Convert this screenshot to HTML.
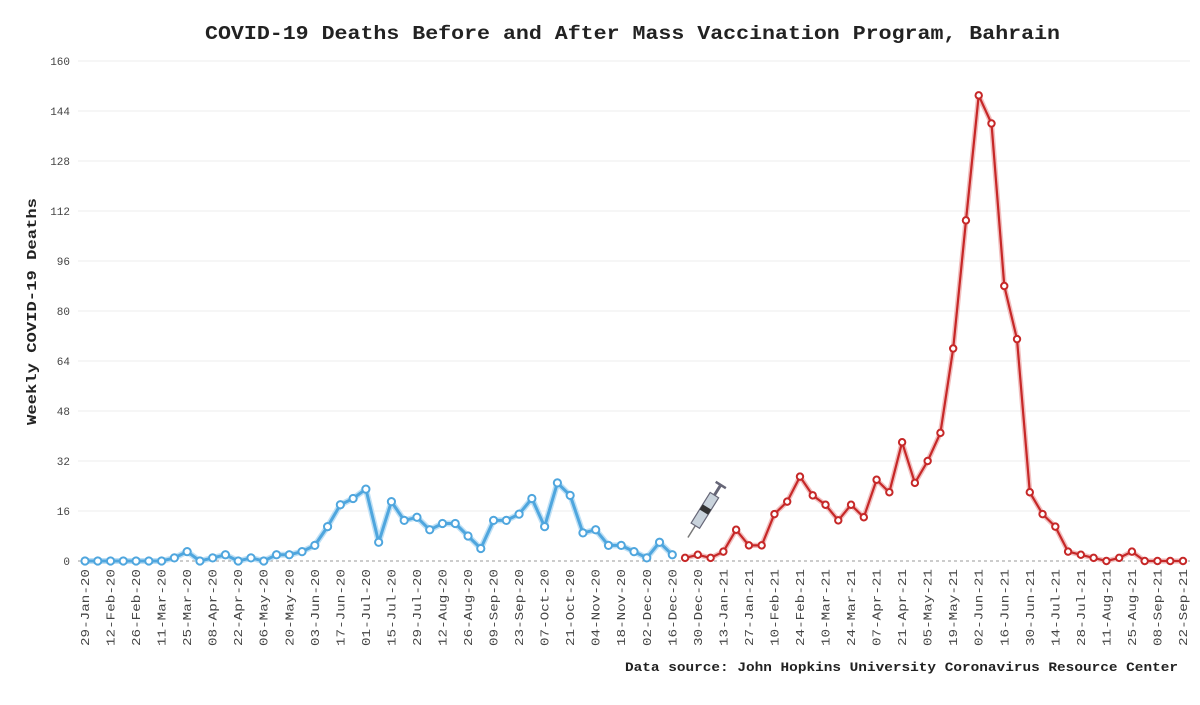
<!DOCTYPE html>
<html><head><meta charset="utf-8"><style>
html,body{margin:0;padding:0;background:#fff;}
svg text{font-family:"Liberation Mono",monospace;}
</style></head><body>
<svg id="s" width="1200" height="700" xmlns="http://www.w3.org/2000/svg">
<rect width="1200" height="700" fill="#fff"/>
<text x="205" y="39" textLength="855" lengthAdjust="spacingAndGlyphs" font-size="19" font-weight="bold" fill="#222">COVID-19 Deaths Before and After Mass Vaccination Program, Bahrain</text>
<text transform="translate(36,425) rotate(-90)" textLength="227" lengthAdjust="spacingAndGlyphs" font-size="14" font-weight="bold" fill="#222">Weekly COVID-19 Deaths</text>
<g id="grid" stroke="#ececec" stroke-width="1"></g>
<g id="ylab" font-size="11" fill="#444" text-anchor="end">
<text x="70" y="565">0</text><text x="70" y="515">16</text><text x="70" y="465">32</text><text x="70" y="415">48</text><text x="70" y="365">64</text><text x="70" y="315">80</text><text x="70" y="265">96</text><text x="70" y="215">112</text><text x="70" y="165">128</text><text x="70" y="115">144</text><text x="70" y="65">160</text>
</g>
<line x1="78" y1="561" x2="1190" y2="561" stroke="#999" stroke-width="1" stroke-dasharray="3,3"/>
<g transform="translate(707,507) rotate(-58)">
<line x1="-36" y1="0" x2="-22" y2="0" stroke="#777" stroke-width="1.5"/>
<rect x="-22" y="-5" width="36" height="10" fill="#c9d3dc" stroke="#667" stroke-width="1.2"/>
<rect x="-6" y="-5" width="6" height="10" fill="#333"/>
<line x1="14" y1="0" x2="26" y2="0" stroke="#667" stroke-width="3"/>
<line x1="26" y1="-6" x2="26" y2="6" stroke="#667" stroke-width="2.5"/>
</g>
<g id="series"></g>
<text x="625" y="671" textLength="553" lengthAdjust="spacingAndGlyphs" font-size="12.5" font-weight="bold" fill="#222">Data source: John Hopkins University Coronavirus Resource Center</text>
<g font-size="11.5" fill="#444" id="xl">
<text>29-Jan-20</text><text>12-Feb-20</text><text>26-Feb-20</text><text>11-Mar-20</text><text>25-Mar-20</text><text>08-Apr-20</text><text>22-Apr-20</text><text>06-May-20</text><text>20-May-20</text><text>03-Jun-20</text><text>17-Jun-20</text><text>01-Jul-20</text><text>15-Jul-20</text><text>29-Jul-20</text><text>12-Aug-20</text><text>26-Aug-20</text><text>09-Sep-20</text><text>23-Sep-20</text><text>07-Oct-20</text><text>21-Oct-20</text><text>04-Nov-20</text><text>18-Nov-20</text><text>02-Dec-20</text><text>16-Dec-20</text><text>30-Dec-20</text><text>13-Jan-21</text><text>27-Jan-21</text><text>10-Feb-21</text><text>24-Feb-21</text><text>10-Mar-21</text><text>24-Mar-21</text><text>07-Apr-21</text><text>21-Apr-21</text><text>05-May-21</text><text>19-May-21</text><text>02-Jun-21</text><text>16-Jun-21</text><text>30-Jun-21</text><text>14-Jul-21</text><text>28-Jul-21</text><text>11-Aug-21</text><text>25-Aug-21</text><text>08-Sep-21</text><text>22-Sep-21</text>
</g>
</svg>
<script>
var NS="http://www.w3.org/2000/svg";
function X(i){return 85+i*1098/86;}
function Y(v){return 561-v*3.125;}
var g=document.getElementById("grid");
for(var k=1;k<=10;k++){var l=document.createElementNS(NS,"line");l.setAttribute("x1",78);l.setAttribute("x2",1190);l.setAttribute("y1",561-50*k);l.setAttribute("y2",561-50*k);g.appendChild(l);}
var t=document.getElementById("xl").children;
for(var j=0;j<t.length;j++){var x=X(j*2)+4;t[j].setAttribute("transform","translate("+x+",646) rotate(-90)");t[j].setAttribute("textLength","77");t[j].setAttribute("lengthAdjust","spacingAndGlyphs");}
var blue=[0,0,0,0,0,0,0,1,3,0,1,2,0,1,0,2,2,3,5,11,18,20,23,6,19,13,14,10,12,12,8,4,13,13,15,20,11,25,21,9,10,5,5,3,1,6,2];
var red=[1,2,1,3,10,5,5,15,19,27,21,18,13,18,14,26,22,38,25,32,41,68,109,149,140,88,71,22,15,11,3,2,1,0,1,3,0,0,0,0];
var s=document.getElementById("series");
function draw(arr,off,col,w,glow,r){
 var pts=arr.map(function(v,i){return X(i+off).toFixed(1)+","+Y(v).toFixed(1);}).join(" ");
 if(glow){var p0=document.createElementNS(NS,"polyline");p0.setAttribute("points",pts);p0.setAttribute("fill","none");p0.setAttribute("stroke",glow);p0.setAttribute("stroke-width",w+3);p0.setAttribute("stroke-linejoin","round");s.appendChild(p0);}
 var p=document.createElementNS(NS,"polyline");p.setAttribute("points",pts);p.setAttribute("fill","none");p.setAttribute("stroke",col);p.setAttribute("stroke-width",w);p.setAttribute("stroke-linejoin","round");s.appendChild(p);
 arr.forEach(function(v,i){var c=document.createElementNS(NS,"circle");c.setAttribute("cx",X(i+off));c.setAttribute("cy",Y(v));c.setAttribute("r",r);c.setAttribute("fill","#fff");c.setAttribute("stroke",col);c.setAttribute("stroke-width",2);s.appendChild(c);});
}
draw(blue,0,"#4fa6de",3,"#bfe0f5",3.6);
draw(red,47,"#c62828",2.2,"#f2c0c0",3.2);
</script>
</body></html>
